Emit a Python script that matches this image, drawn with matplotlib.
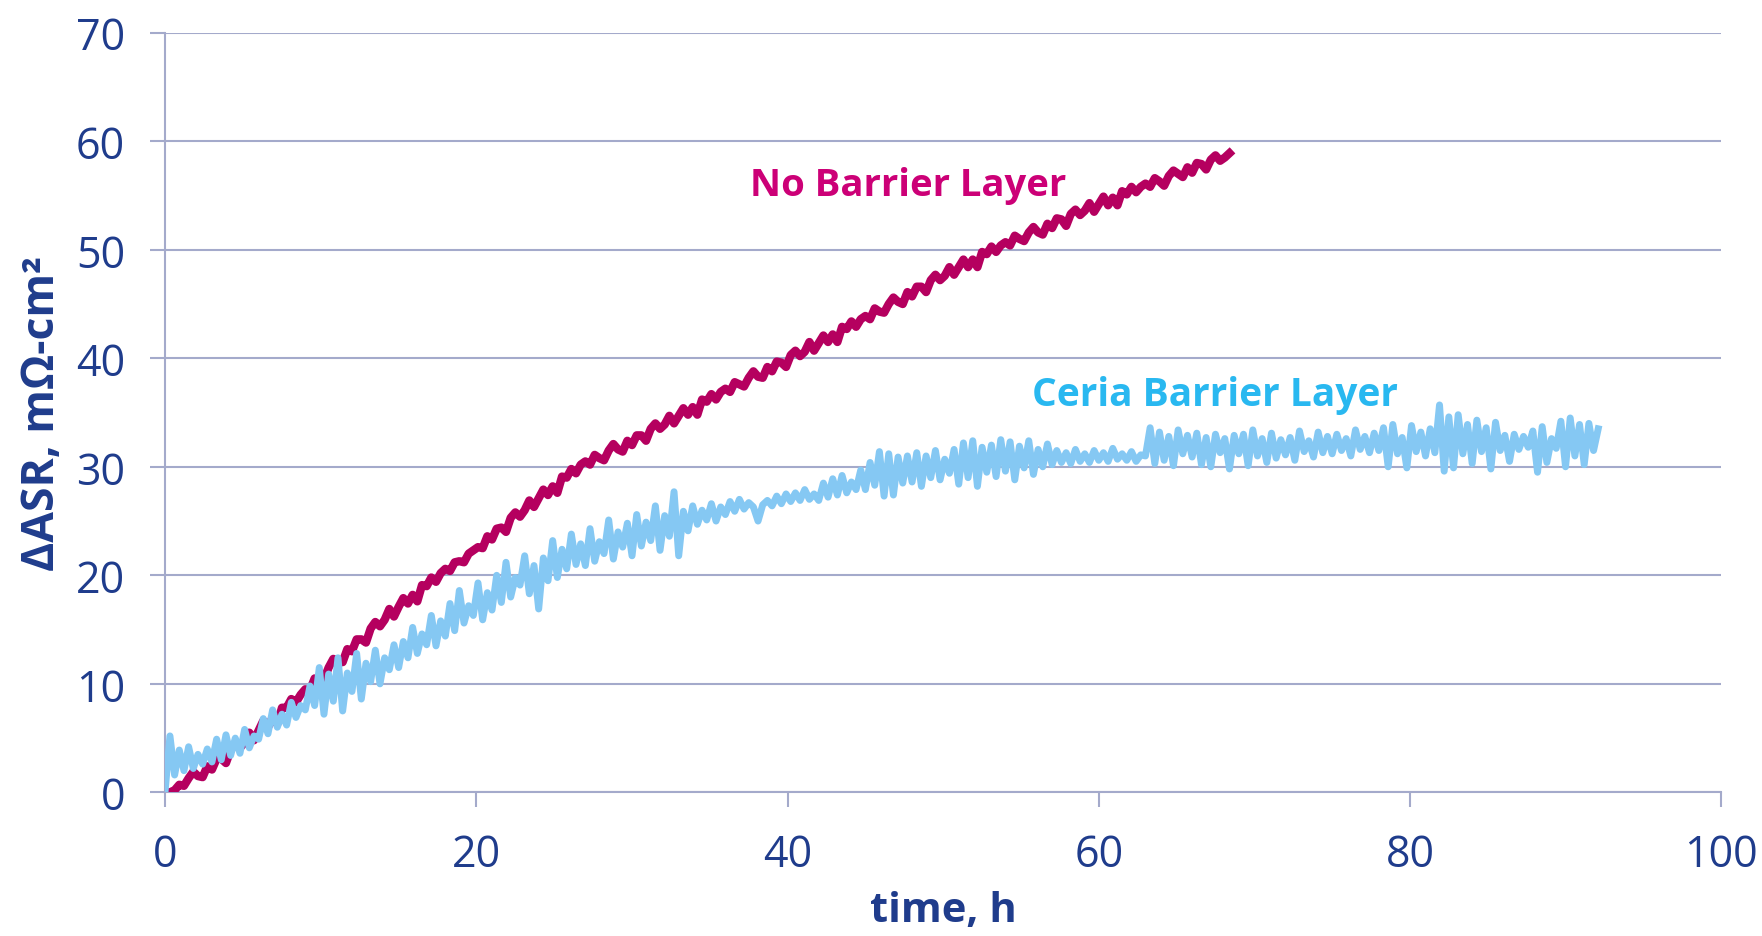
import numpy as np
import matplotlib
matplotlib.use("Agg")
import matplotlib.pyplot as plt

plt.rcParams['font.family'] = ['Open Sans', 'DejaVu Sans']

# logging interval of both runs, hours
dt = 0.3

# delta ASR, mOhm-cm2, no barrier layer
no_barrier = [
    0.0, 0.0, 0.2, 0.7, 0.6, 1.3, 1.9, 1.5, 1.4, 2.4,
    2.1, 3.1, 3.1, 2.7, 3.9, 4.5, 4.1, 4.6, 5.5, 4.8,
    5.7, 6.6, 6.0, 6.9, 6.3, 7.8, 7.8, 8.6, 8.3, 9.0,
    9.5, 9.4, 10.5, 10.4, 10.4, 11.5, 12.3, 12.0, 12.0, 13.2,
    13.0, 14.1, 14.1, 13.8, 15.1, 15.7, 15.3, 15.9, 16.9, 16.2,
    17.1, 17.9, 17.4, 18.2, 17.6, 19.1, 19.0, 19.8, 19.4, 20.2,
    20.6, 20.4, 21.2, 21.3, 21.2, 22.0, 22.3, 22.6, 22.5, 23.6,
    23.3, 24.3, 24.4, 24.0, 25.3, 25.8, 25.4, 26.0, 26.9, 26.3,
    27.1, 27.9, 27.4, 28.2, 27.6, 29.1, 29.0, 29.8, 29.4, 30.2,
    30.5, 30.2, 31.1, 30.8, 30.6, 31.5, 32.1, 31.6, 31.4, 32.4,
    32.0, 32.9, 32.9, 32.4, 33.5, 34.0, 33.5, 33.9, 34.7, 34.0,
    34.7, 35.4, 34.8, 35.5, 34.8, 36.2, 36.0, 36.7, 36.2, 36.9,
    37.2, 36.9, 37.8, 37.6, 37.4, 38.2, 38.8, 38.3, 38.2, 39.2,
    38.8, 39.7, 39.6, 39.2, 40.3, 40.7, 40.2, 40.6, 41.5, 40.7,
    41.4, 42.1, 41.5, 42.2, 41.5, 42.9, 42.7, 43.4, 42.9, 43.6,
    43.9, 43.6, 44.6, 44.3, 44.2, 45.0, 45.6, 45.2, 45.0, 46.1,
    45.7, 46.6, 46.6, 46.1, 47.2, 47.7, 47.2, 47.6, 48.4, 47.7,
    48.4, 49.1, 48.4, 49.1, 48.4, 49.8, 49.6, 50.3, 49.8, 50.4,
    50.7, 50.4, 51.3, 51.0, 50.8, 51.6, 52.1, 51.6, 51.4, 52.4,
    52.0, 52.9, 52.8, 52.2, 53.3, 53.7, 53.2, 53.6, 54.3, 53.5,
    54.2, 54.9, 54.1, 54.8, 54.1, 55.4, 55.1, 55.8, 55.3, 55.8,
    56.1, 55.8, 56.6, 56.3, 55.9, 56.8, 57.3, 57.0, 56.7, 57.6,
    57.1, 58.0, 57.9, 57.4, 58.3, 58.7, 58.2, 58.5, 58.9,
]

# delta ASR, mOhm-cm2, ceria barrier layer
ceria = [
    0.3, 5.2, 1.6, 3.9, 2.0, 4.2, 2.2, 3.5, 2.6, 4.0,
    2.8, 4.9, 3.0, 5.3, 3.4, 5.0, 3.6, 5.8, 4.1, 5.2,
    4.9, 6.8, 5.4, 7.6, 6.0, 7.2, 6.2, 8.3, 6.9, 8.0,
    7.6, 9.8, 8.0, 11.5, 7.2, 10.9, 8.4, 12.4, 7.5, 11.0,
    9.3, 12.8, 8.6, 11.9, 10.2, 13.1, 10.0, 12.4, 11.3, 13.6,
    11.5, 13.9, 12.4, 15.2, 12.8, 14.6, 13.6, 16.3, 13.5, 15.8,
    14.4, 17.4, 14.9, 18.6, 15.6, 17.2, 16.3, 19.3, 15.9, 18.4,
    16.8, 20.0, 17.5, 21.2, 18.0, 19.8, 19.1, 21.8, 18.3, 20.9,
    16.9, 21.6, 19.5, 23.2, 19.8, 22.4, 20.6, 23.8, 21.0, 22.9,
    20.9, 24.3, 21.3, 23.1, 22.0, 25.1, 21.5, 24.0, 22.6, 24.8,
    21.8, 25.6, 22.7, 24.9, 23.2, 26.4, 22.3, 25.5, 23.6, 27.7,
    21.8, 25.9, 24.1, 26.4, 24.7, 26.0, 25.1, 26.6, 25.0, 26.3,
    25.6, 26.8, 25.9, 27.0, 26.1, 26.7, 26.3, 25.0, 26.5, 26.9,
    26.4, 27.3, 26.6, 27.5, 26.8, 27.6, 26.9, 27.9, 27.0, 27.5,
    26.9, 28.5, 27.2, 28.9, 27.4, 29.2, 27.6, 28.6, 27.9, 29.7,
    27.9, 30.4, 28.3, 31.4, 27.3, 31.2, 27.4, 30.9, 28.5, 31.0,
    28.6, 31.3, 28.2, 31.0, 29.0, 31.5, 28.8, 30.7, 29.4, 31.6,
    28.4, 32.2, 29.0, 32.4, 28.2, 31.8, 29.5, 32.0, 29.1, 32.5,
    29.6, 32.3, 28.8, 31.9, 29.9, 32.4, 29.3, 31.6, 30.0, 32.1,
    30.2, 31.5, 30.4, 31.3, 30.3, 31.6, 30.5, 31.2, 30.4, 31.5,
    30.6, 31.3, 30.5, 31.7, 30.7, 31.2, 30.6, 31.4, 30.5, 31.1,
    31.0, 33.6, 30.3, 33.2, 30.6, 32.8, 30.1, 33.4, 31.2, 32.9,
    30.9, 33.1, 30.2, 32.7, 30.0, 33.0, 31.3, 32.6, 29.8, 32.9,
    31.2, 33.0, 30.1, 33.4, 31.0, 32.6, 30.4, 33.1, 30.8, 32.5,
    31.1, 32.7, 30.6, 33.3, 31.4, 32.4, 30.9, 33.2, 31.3, 32.8,
    31.2, 33.0, 31.5, 32.6, 31.0, 33.4, 31.6, 32.8, 31.3, 33.1,
    31.5, 33.6, 30.0, 33.9, 31.2, 32.7, 29.9, 33.8, 31.4, 33.2,
    31.0, 33.5, 31.3, 35.7, 29.6, 34.6, 29.9, 34.8, 31.2, 33.9,
    30.3, 34.3, 31.4, 33.6, 29.8, 34.1, 31.5, 32.9, 30.5, 33.0,
    31.6, 32.8, 31.8, 33.3, 29.5, 33.7, 30.4, 32.6, 31.7, 34.2,
    30.0, 34.5, 31.0, 33.9, 30.2, 34.0, 31.5, 33.5,
]

t_no_barrier = np.arange(len(no_barrier)) * dt
t_ceria = np.arange(len(ceria)) * dt

navy = '#1f3c8c'
grid_col = '#a4aacb'

fig = plt.figure(figsize=(17.62, 9.37), dpi=100)
ax = fig.add_axes([0.0938, 0.1533, 0.883, 0.8107])

ax.plot(t_no_barrier, no_barrier, color='#b5005f', lw=6.0, solid_joinstyle='round', zorder=3)
ax.plot(t_ceria, ceria, color='#85c8f3', lw=5.0, solid_joinstyle='round', zorder=4)

ax.text(37.6, 56.0, 'No Barrier Layer', color='#cc0077', fontsize=27.5,
        fontweight='bold', va='center', ha='left')
ax.text(55.7, 36.7, 'Ceria Barrier Layer', color='#29b8f0', fontsize=28,
        fontweight='bold', va='center', ha='left')

ax.set_xlim(0, 100)
ax.set_ylim(0, 70)
ax.set_xticks(range(0, 101, 20))
ax.set_yticks(range(0, 71, 10))
ax.yaxis.grid(True, color=grid_col, lw=1.5)
ax.set_axisbelow(True)

for side in ['top', 'right']:
    ax.spines[side].set_visible(False)
for side in ['left', 'bottom']:
    ax.spines[side].set_color(grid_col)
    ax.spines[side].set_linewidth(1.5)

ax.tick_params(axis='both', colors=grid_col, length=11, width=1.5,
               labelsize=31, labelcolor=navy, pad=18)

ax.set_ylabel('ΔASR, mΩ-cm²', fontsize=32, fontweight='bold', color=navy, labelpad=8)
ax.set_xlabel('time, h', fontsize=30, fontweight='bold', color=navy, labelpad=9)

fig.savefig('out.png', dpi=100, facecolor='white')
